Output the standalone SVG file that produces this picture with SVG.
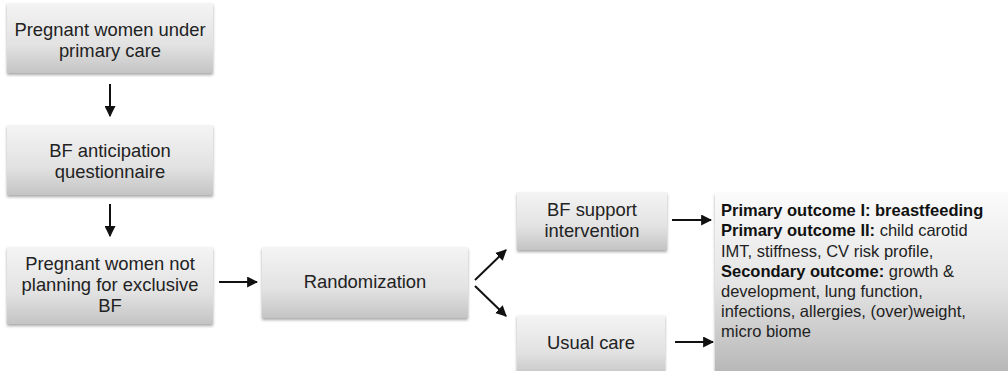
<svg xmlns="http://www.w3.org/2000/svg" width="1008" height="371" viewBox="0 0 1008 371">
<defs>
<linearGradient id="g" x1="0" y1="0" x2="0" y2="1">
<stop offset="0" stop-color="#f4f4f4"/>
<stop offset="0.6" stop-color="#e2e2e2"/>
<stop offset="1" stop-color="#c4c4c4"/>
</linearGradient>
<linearGradient id="g2" x1="0" y1="0" x2="0" y2="1">
<stop offset="0" stop-color="#fbfbfb"/>
<stop offset="0.5" stop-color="#e4e4e4"/>
<stop offset="1" stop-color="#b4b4b4"/>
</linearGradient>
<filter id="sh" x="-5%" y="-5%" width="110%" height="120%">
<feGaussianBlur in="SourceAlpha" stdDeviation="1.5"/>
<feOffset dx="0" dy="2" result="b"/>
<feComponentTransfer><feFuncA type="linear" slope="0.35"/></feComponentTransfer>
<feMerge><feMergeNode/><feMergeNode in="SourceGraphic"/></feMerge>
</filter>
<marker id="ah" viewBox="0 0 10 10" refX="9" refY="5" markerWidth="5.5" markerHeight="5.5" orient="auto" markerUnits="strokeWidth">
<path d="M0,0 L10,5 L0,10 z" fill="#111"/>
</marker>
</defs>
<style>
.box{fill:url(#g);filter:url(#sh)}
.obox{fill:url(#g2);filter:url(#sh)}
.t{font-family:"Liberation Sans",Arial,sans-serif;font-size:18.4px;fill:#222;text-anchor:middle}
.o{font-family:"Liberation Sans",Arial,sans-serif;font-size:16.5px;fill:#222}
.b{font-weight:bold;fill:#111}
.c{stroke:#111;stroke-width:2;fill:none;marker-end:url(#ah)}
</style>
<rect width="1008" height="371" fill="#fff"/>
<g id="n1">
<rect class="box" x="7" y="3" width="206" height="70"/>
<text class="t" x="110" y="36">Pregnant women under</text>
<text class="t" x="110" y="57">primary care</text>
</g>
<g id="n2">
<rect class="box" x="7" y="125" width="206" height="70"/>
<text class="t" x="110" y="157">BF anticipation</text>
<text class="t" x="110" y="178">questionnaire</text>
</g>
<g id="n3">
<rect class="box" x="7" y="247" width="206" height="77"/>
<text class="t" x="110" y="270">Pregnant women not</text>
<text class="t" x="110" y="291">planning for exclusive</text>
<text class="t" x="110" y="312">BF</text>
</g>
<g id="n4">
<rect class="box" x="262" y="247" width="206" height="71"/>
<text class="t" x="365" y="288">Randomization</text>
</g>
<g id="n5">
<rect class="box" x="517" y="192" width="150" height="58"/>
<text class="t" x="592" y="216">BF support</text>
<text class="t" x="592" y="237">intervention</text>
</g>
<g id="n6">
<rect class="box" x="517" y="315" width="148" height="62"/>
<text class="t" x="591" y="349">Usual care</text>
</g>
<g id="n7">
<rect class="obox" x="715" y="193" width="300" height="185"/>
<text class="o" x="721" y="216"><tspan class="b">Primary outcome I: breastfeeding</tspan></text>
<text class="o" x="721" y="236"><tspan class="b">Primary outcome II:</tspan> child carotid</text>
<text class="o" x="721" y="257">IMT, stiffness, CV risk profile,</text>
<text class="o" x="721" y="277"><tspan class="b">Secondary outcome:</tspan> growth &amp;</text>
<text class="o" x="721" y="297">development, lung function,</text>
<text class="o" x="721" y="317">infections, allergies, (over)weight,</text>
<text class="o" x="721" y="337">micro biome</text>
</g>
<g id="connectors">
<path class="c" d="M110,84 V116"/>
<path class="c" d="M110,204 V236"/>
<path class="c" d="M219,282 H257"/>
<path class="c" d="M475,280 L506,250"/>
<path class="c" d="M475,286 L506,316"/>
<path class="c" d="M672,220 H711"/>
<path class="c" d="M675,342 H713"/>
</g>
</svg>
